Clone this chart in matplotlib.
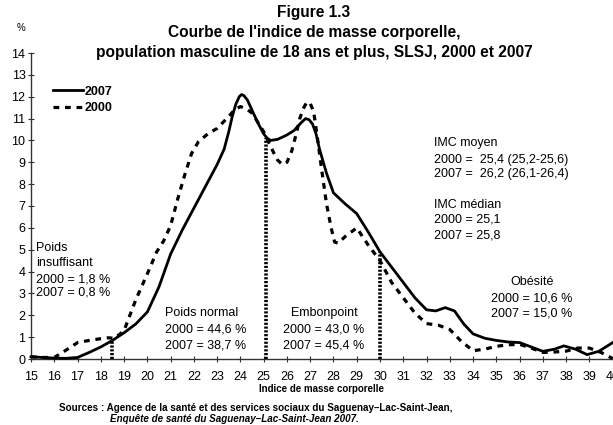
import numpy as np
import matplotlib
matplotlib.use('Agg')
from matplotlib import pyplot as plt

plt.rcParams['font.family'] = ['Liberation Sans', 'DejaVu Sans']

# courbe 2007 (trait plein)
imc_2007 = [15, 15.5, 16, 16.5, 17, 17.5, 18, 18.5, 19, 19.5, 20, 20.5, 21, 21.5,
            22, 22.5, 23, 23.3, 23.5, 23.65, 23.8, 23.95, 24.05, 24.15, 24.3, 24.45,
            24.6, 24.8, 25, 25.15, 25.3, 25.6, 26, 26.3, 26.6, 26.8, 26.95, 27.1,
            27.25, 27.4, 27.7, 28, 28.5, 29, 29.5, 30, 30.5, 31, 31.5, 32,
            32.4, 32.8, 33.2, 33.6, 34, 34.5, 35, 35.5, 36, 36.5, 37, 37.5, 37.9,
            38.4, 38.9, 39.4, 40]
pct_2007 = [0.1, 0.07, 0.04, 0.03, 0.07, 0.3, 0.55, 0.85, 1.2, 1.6, 2.15, 3.3, 4.8, 5.9,
            6.9, 7.9, 8.9, 9.6, 10.4, 11.1, 11.65, 12.0, 12.1, 12.05, 11.85, 11.5,
            11.15, 10.7, 10.3, 10.1, 10.0, 10.05, 10.25, 10.45, 10.8, 11.0, 10.95, 10.75,
            10.3, 9.6, 8.5, 7.6, 7.1, 6.65, 5.8, 4.9, 4.2, 3.5, 2.8, 2.25,
            2.2, 2.35, 2.2, 1.6, 1.15, 0.95, 0.85, 0.78, 0.75, 0.55, 0.35, 0.45, 0.6,
            0.45, 0.2, 0.35, 0.75]

# courbe 2000 (pointilles)
imc_2000 = [15, 15.5, 16, 16.5, 17, 17.5, 18, 18.3, 18.6, 19, 19.5, 20, 20.4, 20.7,
            21, 21.3, 21.6, 21.9, 22.2, 22.6, 23, 23.5, 23.75, 24, 24.25, 24.5, 25,
            25.4, 25.6, 25.8, 26.0, 26.2, 26.4, 26.55, 26.7, 26.85, 27.0, 27.15, 27.3,
            27.5, 27.7, 27.9, 28.05, 28.2, 28.5, 29, 29.5, 30, 30.5,
            31, 31.5, 32, 32.5, 33, 33.5, 34, 34.5, 35, 35.5, 36, 36.5, 37, 37.5,
            38, 38.5, 39, 39.5, 40]
pct_2000 = [0.1, 0.07, 0.07, 0.4, 0.75, 0.85, 0.93, 0.97, 0.95, 1.3, 2.7, 3.9, 4.9, 5.4,
            6.1, 7.3, 8.4, 9.4, 9.95, 10.3, 10.55, 11.1, 11.4, 11.55, 11.45, 11.25, 10.4,
            9.5, 9.1, 8.9, 9.0, 9.5, 10.3, 11.0, 11.45, 11.75, 11.7, 11.3, 10.2,
            8.6, 7.1, 6.0, 5.35, 5.3, 5.6, 6.0, 5.2, 4.5, 3.5,
            2.8, 2.1, 1.62, 1.55, 1.35, 0.8, 0.38, 0.45, 0.58, 0.65, 0.67, 0.5, 0.3, 0.32,
            0.36, 0.5, 0.5, 0.3, 0.02]

# seuils des categories d'IMC
seuils = [18.5, 25.1, 30]
seuils_haut = [0.85, 10.1, 4.9]

W, H = 613, 425
fig = plt.figure(figsize=(W / 100, H / 100), dpi=100)
ax = fig.add_axes([31 / W, 1 - 359 / H, 581.7 / W, 306 / H])

ax.plot(imc_2007, pct_2007, 'k-', lw=2.0, label='2007', clip_on=False, zorder=3)
ax.plot(imc_2000, pct_2000, color='k', lw=2.3, ls=(0, (1.8, 1.8)), label='2000',
        clip_on=False, zorder=3)
ax.vlines(seuils, 0, seuils_haut, colors='k', lw=2.6, linestyles=[(0, (0.6, 0.45))],
          zorder=2)

ax.set_xlim(15, 40)
ax.set_ylim(0, 14)
ax.set_xticks(np.arange(15, 41, 1))
ax.set_yticks(np.arange(0, 15, 1))
for s in ['top', 'right']:
    ax.spines[s].set_visible(False)
for s in ['left', 'bottom']:
    ax.spines[s].set_color('#333333')
    ax.spines[s].set_linewidth(1.0)
ax.tick_params(axis='both', direction='inout', length=5, width=0.8, color='#333333',
               labelsize=9)
ax.tick_params(axis='x', pad=6)
ax.tick_params(axis='y', pad=1.5)
ax.set_xlabel('Indice de masse corporelle', fontsize=7, fontweight='bold', labelpad=1)

leg = ax.legend(loc='upper left', bbox_to_anchor=(0.0378, 0.893), frameon=False,
                handlelength=2.4, handletextpad=0.15, borderpad=0, borderaxespad=0,
                labelspacing=0.38, prop={'size': 9, 'weight': 'bold'})

# annotations
fs = 9
ax.text(15.21, 5.08, 'Poids', fontsize=fs, va='center')
ax.text(15.21, 4.39, 'insuffisant', fontsize=fs, va='center')
ax.text(15.21, 3.66, '2000 = 1,8 %', fontsize=fs, va='center')
ax.text(15.21, 3.02, '2007 = 0,8 %', fontsize=fs, va='center')

ax.text(20.76, 2.10, 'Poids normal', fontsize=fs, va='center')
ax.text(20.76, 1.37, '2000 = 44,6 %', fontsize=fs, va='center')
ax.text(20.76, 0.64, '2007 = 38,7 %', fontsize=fs, va='center')

ax.text(27.59, 2.10, 'Embonpoint', fontsize=fs, va='center', ha='center')
ax.text(27.59, 1.37, '2000 = 43,0 %', fontsize=fs, va='center', ha='center')
ax.text(27.59, 0.64, '2007 = 45,4 %', fontsize=fs, va='center', ha='center')

ax.text(32.32, 9.88, 'IMC moyen', fontsize=fs, va='center')
ax.text(32.32, 9.10, '2000 =  25,4 (25,2-25,6)', fontsize=fs, va='center')
ax.text(32.32, 8.46, '2007 =  26,2 (26,1-26,4)', fontsize=fs, va='center')
ax.text(32.32, 7.04, 'IMC médian', fontsize=fs, va='center')
ax.text(32.32, 6.36, '2000 = 25,1', fontsize=fs, va='center')
ax.text(32.32, 5.67, '2007 = 25,8', fontsize=fs, va='center')

ax.text(36.53, 3.52, 'Obésité', fontsize=fs, va='center', ha='center')
ax.text(36.53, 2.79, '2000 = 10,6 %', fontsize=fs, va='center', ha='center')
ax.text(36.53, 2.10, '2007 = 15,0 %', fontsize=fs, va='center', ha='center')

# titres et sources
tfs = 11.2
fig.text(314 / W, 1 - 12 / H, 'Figure 1.3', fontsize=tfs, fontweight='bold',
         ha='center', va='center')
fig.text(314 / W, 1 - 32 / H, "Courbe de l'indice de masse corporelle,", fontsize=tfs,
         fontweight='bold', ha='center', va='center')
fig.text(314 / W, 1 - 52 / H, 'population masculine de 18 ans et plus, SLSJ, 2000 et 2007',
         fontsize=tfs, fontweight='bold', ha='center', va='center')
fig.text(21 / W, 1 - 28 / H, '%', fontsize=7, ha='center', va='center')
fig.text(59 / W, 1 - 408 / H,
         'Sources : Agence de la santé et des services sociaux du Saguenay–Lac-Saint-Jean,',
         fontsize=7.1, fontweight='bold', va='center')
fig.text(110 / W, 1 - 419 / H, 'Enquête de santé du Saguenay–Lac-Saint-Jean 2007.',
         fontsize=7.1, fontweight='bold', style='italic', va='center')

plt.savefig('out.png', dpi=100)
